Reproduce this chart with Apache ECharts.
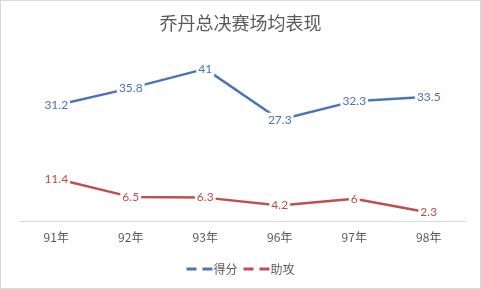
<!DOCTYPE html>
<html><head><meta charset="utf-8">
<script src="https://cdn.jsdelivr.net/npm/echarts@6/dist/echarts.min.js"></script>
<style>html,body{margin:0;padding:0;background:#fff}#c{width:479px;height:287px;border:1px solid #d9d9d9}</style>
</head><body><div id="c"></div>
<script>
const categories = ['91年','92年','93年','96年','97年','98年'];
const points = [31.2, 35.8, 41, 27.3, 32.3, 33.5];
const assists = [11.4, 6.5, 6.3, 4.2, 6, 2.3];
const seriesNames = ['得分','助攻'];

const chart = echarts.init(document.getElementById('c'));
const lbl = (color) => ({
  show: true, position: 'inside', color: color, fontSize: 12,
  fontFamily: 'Lato, "Open Sans", sans-serif', backgroundColor: '#fff', padding: [1, 2]
});
chart.setOption({
  animation: false,
  title: { text: '乔丹总决赛场均表现', left: 'center', top: 8,
    textStyle: { fontSize: 18, fontWeight: 'normal', color: '#595959', fontFamily: '"Noto Sans CJK SC", sans-serif' } },
  grid: { left: 18, right: 14, top: 53, bottom: 67 },
  xAxis: { type: 'category', data: categories,
    axisLine: { lineStyle: { color: '#d9d9d9' } }, axisTick: { show: false },
    axisLabel: { color: '#595959', fontSize: 12, margin: 10, fontFamily: '"Noto Sans CJK SC", sans-serif' } },
  yAxis: { type: 'value', min: 0, max: 45, show: false, splitLine: { show: false } },
  legend: { bottom: 8, left: 'center', itemWidth: 26, itemHeight: 3, itemGap: 6,
    icon: 'path://M0,0h10v3h-10z M16,0h10v3h-10z',
    textStyle: { color: '#595959', fontSize: 12, fontFamily: '"Noto Sans CJK SC", sans-serif', padding: [0,0,0,-4] } },
  series: [
    { name: seriesNames[0], type: 'line', data: points, symbol: 'circle', symbolSize: 1,
      itemStyle: { color: '#4a76b8' }, lineStyle: { width: 2.5, color: '#4a76b8' }, label: lbl('#4a72b8') },
    { name: seriesNames[1], type: 'line', data: assists, symbol: 'circle', symbolSize: 1,
      itemStyle: { color: '#c0504d' }, lineStyle: { width: 2.5, color: '#c0504d' }, label: lbl('#be4b48') }
  ]
});
</script></body></html>
